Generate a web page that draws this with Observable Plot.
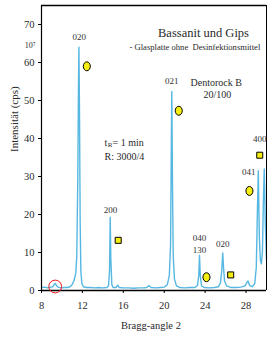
<!DOCTYPE html>
<html>
<head>
<meta charset="utf-8">
<script src="https://cdn.jsdelivr.net/npm/d3@7"></script>
<script src="https://cdn.jsdelivr.net/npm/@observablehq/plot@0.6"></script>
<style>
  html, body { margin: 0; padding: 0; background: #fff; }
  #chart svg { display: block; }
</style>
</head>
<body>
<div id="chart"></div>
<script>
// Diffraction trace (Bragg angle, intensity in cps)
const braggAngle = [8.0, 8.3, 8.6, 8.9, 9.1, 9.25, 9.35, 9.45, 9.6, 9.9, 10.2, 10.5, 10.8, 11.0, 11.2, 11.35, 11.45, 11.55, 11.62, 11.66, 11.72, 11.78, 11.85, 11.95, 12.1, 12.4, 12.8, 13.2, 13.6, 14.0, 14.4, 14.55, 14.65, 14.72, 14.78, 14.88, 15.0, 15.3, 15.45, 15.6, 16.0, 16.5, 17.0, 17.5, 18.0, 18.3, 18.5, 18.7, 19.2, 19.6, 20.0, 20.3, 20.5, 20.62, 20.7, 20.74, 20.8, 20.88, 21.0, 21.2, 21.5, 22.0, 22.5, 23.0, 23.25, 23.38, 23.45, 23.52, 23.65, 23.9, 24.4, 24.9, 25.3, 25.5, 25.62, 25.72, 25.8, 25.9, 26.1, 26.5, 27.0, 27.5, 27.9, 28.1, 28.2, 28.35, 28.6, 28.85, 29.0, 29.12, 29.2, 29.3, 29.4, 29.5, 29.6, 29.7, 29.78, 29.88, 30.0];
const intensity  = [0.8, 0.9, 0.7, 0.9, 1.0, 1.6, 1.9, 1.3, 0.9, 0.7, 0.8, 0.8, 1.0, 1.6, 2.8, 4.5, 9, 30, 55, 64, 45, 18, 5, 1.8, 1.0, 0.8, 0.8, 0.7, 0.8, 0.7, 0.8, 1.2, 5, 19.3, 8, 1.5, 0.8, 0.8, 1.4, 0.8, 0.7, 0.7, 0.6, 0.7, 0.7, 0.8, 1.3, 0.8, 0.7, 0.8, 0.9, 1.5, 4, 12, 40, 52.4, 30, 9, 3, 1.2, 0.8, 0.7, 0.8, 0.8, 1.3, 4, 9.3, 4, 1.2, 0.8, 0.7, 0.8, 1.0, 2, 5, 9.9, 6, 2.5, 1.2, 0.8, 0.8, 0.9, 1.2, 2.2, 2.5, 1.3, 1.0, 1.8, 6, 22, 31.5, 14, 8, 7, 10, 24, 32, 18, 8];

// Peak (hkl) labels
const peakLabels = ["020", "200", "021", "040", "130", "020", "041", "400"];
const peakLabelX = [11.69, 14.74, 20.74, 23.44, 23.44, 25.72, 28.26, 29.34];
const peakLabelY = [66.8, 21.05, 55.0, 13.76, 10.5, 12.1, 31.1, 39.9];

// Phase markers: circles (Gips) and squares (Bassanit)
const circleX = [12.43, 21.42, 24.13, 28.33];
const circleY = [59.0, 47.3, 3.5, 26.2];
const squareX = [15.5, 26.5, 29.34];
const squareY = [13.2, 4.1, 35.6];

// Highlighted small reflection
const highlightX = [9.34];
const highlightY = [1.05];

const xTicks = [8, 12, 16, 20, 24, 28];
const yTicks = [0, 10, 20, 30, 40, 50, 60, 70];

const titleText = "Bassanit und Gips";
const subtitleText = "- Glasplatte ohne  Desinfektionsmittel";
const sampleLines = ["Dentorock B", "20/100"];
const conditionLine2 = "R: 3000/4";

const trace = braggAngle.map((x, i) => ({x, y: intensity[i]}));
const peaks = peakLabels.map((t, i) => ({t, x: peakLabelX[i], y: peakLabelY[i]}));
const circles = circleX.map((x, i) => ({x, y: circleY[i]}));
const squares = squareX.map((x, i) => ({x, y: squareY[i]}));
const highlight = highlightX.map((x, i) => ({x, y: highlightY[i]}));

const ellipse = {
  draw(ctx, size) {
    const r = Math.sqrt(size / Math.PI);
    const rx = r * 0.88, ry = r * 1.12, k = 0.5523;
    ctx.moveTo(rx, 0);
    ctx.bezierCurveTo(rx, ry * k, rx * k, ry, 0, ry);
    ctx.bezierCurveTo(-rx * k, ry, -rx, ry * k, -rx, 0);
    ctx.bezierCurveTo(-rx, -ry * k, -rx * k, -ry, 0, -ry);
    ctx.bezierCurveTo(rx * k, -ry, rx, -ry * k, rx, 0);
    ctx.closePath();
  }
};

const txt = "#2a2a2a";

const chart = Plot.plot({
  width: 268,
  height: 338,
  marginLeft: 41,
  marginRight: 2,
  marginTop: 5,
  marginBottom: 48,
  style: {fontFamily: "'Liberation Serif', 'DejaVu Serif', serif", fontSize: "10px", color: txt, background: "#fff"},
  x: {domain: [8, 30]},
  y: {domain: [0, 75]},
  marks: [
    Plot.axisX({ticks: xTicks, tickSize: 3, tickPadding: 8, label: null, fontSize: 10.5, stroke: "#000"}),
    Plot.axisY({ticks: yTicks, tickSize: 3, tickPadding: 4, label: null, fontSize: 10.5, stroke: "#000"}),
    Plot.line(trace, {x: "x", y: "y", stroke: "#56b8e2", strokeWidth: 1.4}),
    Plot.ruleY([75], {stroke: "#000", strokeWidth: 1.6}),
    Plot.ruleX([30], {stroke: "#000", strokeWidth: 1}),
    Plot.ruleX([8], {stroke: "#000", strokeWidth: 1.2}),
    Plot.ruleY([0], {stroke: "#000", strokeWidth: 1.6}),
    Plot.dot(circles, {x: "x", y: "y", r: 4, symbol: ellipse, fill: "#f5ee10", stroke: "#000", strokeWidth: 1}),
    Plot.dot(squares, {x: "x", y: "y", r: 3.4, symbol: "square", fill: "#f5ee10", stroke: "#000", strokeWidth: 1}),
    Plot.dot(highlight, {x: "x", y: "y", r: 6.4, fill: "none", stroke: "#e8161b", strokeWidth: 1}),
    Plot.text(peaks, {x: "x", y: "y", text: "t", fontSize: 9, fill: "#333"}),
    Plot.text([titleText], {x: 23.84, y: 67.7, fontSize: 12.5, fill: txt}),
    Plot.text([subtitleText], {x: 23.0, y: 64.1, fontSize: 8.6, fill: txt}),
    Plot.text([sampleLines[0]], {x: 25.08, y: 54.7, fontSize: 10, fill: txt}),
    Plot.text([sampleLines[1]], {x: 25.2, y: 51.6, fontSize: 10, fill: txt}),
    Plot.text(["t"], {x: 14.16, y: 38.9, textAnchor: "start", fontSize: 10, fill: txt}),
    Plot.text(["R"], {x: 14.16, y: 38.9, dx: 3.3, dy: 2.5, textAnchor: "start", fontSize: 7, fill: txt}),
    Plot.text(["= 1 min"], {x: 14.16, y: 38.9, dx: 8, textAnchor: "start", fontSize: 10, fill: txt}),
    Plot.text([conditionLine2], {x: 14.16, y: 35.1, textAnchor: "start", fontSize: 10, fill: txt}),
    Plot.text(["10\u2077"], {x: 8, y: 64.5, dx: -6, textAnchor: "end", fontSize: 8, fill: txt}),
    Plot.text(["Intensität (cps)"], {frameAnchor: "left", dx: -27, dy: 4, rotate: -90, fontSize: 11, fill: txt}),
    Plot.text(["Bragg-angle 2"], {frameAnchor: "bottom", dx: -3, dy: 38, fontSize: 10.5, fill: txt})
  ]
});
document.getElementById("chart").appendChild(chart);
</script>
</body>
</html>
